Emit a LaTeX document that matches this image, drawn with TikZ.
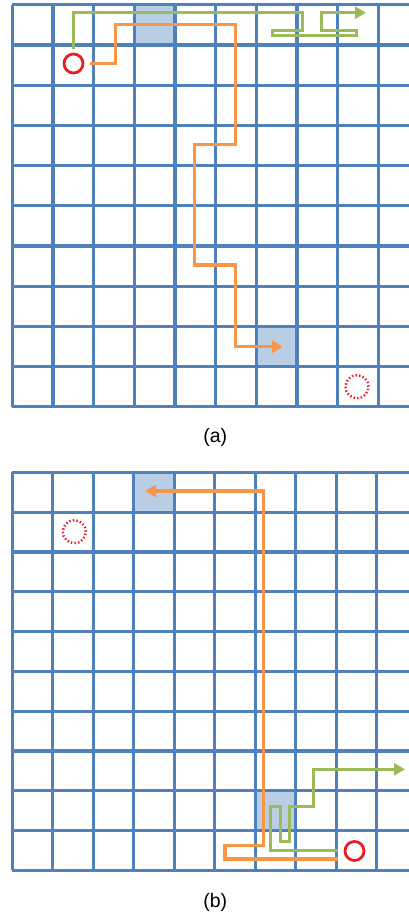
\documentclass[tikz,border=0pt]{standalone}
\usepackage{fontspec}
\setmainfont{Liberation Sans}
\usetikzlibrary{arrows.meta}
\definecolor{gridblue}{RGB}{79,129,189}
\definecolor{cellshade}{RGB}{185,205,229}
\definecolor{pathorange}{RGB}{247,150,70}
\definecolor{pathgreen}{RGB}{155,187,89}
\definecolor{markred}{RGB}{232,30,36}
\tikzset{
  gridline/.style={draw=gridblue, line width=3.2pt},
  shadecell/.style={fill=cellshade},
  orangepath/.style={draw=pathorange, line width=3.2pt},
  greenpath/.style={draw=pathgreen, line width=3pt},
  tipped/.style={-{Triangle[length=11pt,width=12pt]}},
  startmark/.style={circle, draw=markred, line width=2.8pt, minimum size=19pt, inner sep=0pt},
  goalmark/.style={circle, draw=markred, line width=2.5pt, dash pattern=on 1.4pt off 2.2pt, minimum size=23pt, inner sep=0pt},
  caption/.style={font=\fontsize{19.5}{22}\selectfont, inner sep=0pt}
}
\begin{document}
\begin{tikzpicture}[x=1pt,y=-1pt]
\useasboundingbox (0,0) rectangle (409,918);
\clip (0,0) rectangle (409,918);
\fill[white] (0,0) rectangle (409,918);
% ---------- grid (a) ----------
\def\xa{12.3}\def\ya{4.7}\def\dxa{40.67}\def\dya{40.2}
\fill[shadecell] ({\xa+3*\dxa},{\ya}) rectangle ++(\dxa,\dya);
\fill[shadecell] ({\xa+6*\dxa},{\ya+8*\dya}) rectangle ++(\dxa,\dya);
\foreach \i in {0,...,10}{
  \draw[gridline] ({\xa+\i*\dxa},{\ya}) -- ++(0,{10*\dya});
  \draw[gridline] ({\xa},{\ya+\i*\dya}) -- ++({10*\dxa},0);
}
% ---------- grid (b) ----------
\def\xb{12.3}\def\yb{472.3}\def\dxb{40.5}\def\dyb{39.8}
\fill[shadecell] ({\xb+3*\dxb},{\yb}) rectangle ++(\dxb,\dyb);
\fill[shadecell] ({\xb+6*\dxb},{\yb+8*\dyb}) rectangle ++(\dxb,\dyb);
\foreach \i in {0,...,10}{
  \draw[gridline] ({\xb+\i*\dxb},{\yb}) -- ++(0,{10*\dyb});
  \draw[gridline] ({\xb},{\yb+\i*\dyb}) -- ++({10*\dxb},0);
}
% ---------- markers ----------
\node[startmark] (sa) at (73.5,63.5) {};
\node[goalmark] (ga) at (357,386.7) {};
\node[startmark] (sb) at (354.5,851) {};
\node[goalmark] (gb) at (74.3,531.7) {};
% ---------- paths (a) ----------
\coordinate (ga0) at (73.5,48.5);
\coordinate (gaend) at (366,12.7);
\draw[greenpath, tipped] (ga0) -- (73.5,12.7) -- (302.7,12.7) -- (302.7,30.2)
  -- (272.3,30.2) -- (272.3,35.5) -- (356,35.5) -- (356,30.2) -- (321.7,30.2)
  -- (321.7,12.7) -- (gaend);
\coordinate (oa0) at (90,63.3);
\coordinate (oaend) at (283,346.7);
\draw[orangepath, tipped] (oa0) -- (115.7,63.3) -- (115.7,24.3) -- (235.7,24.3)
  -- (235.7,144.3) -- (194.3,144.3) -- (194.3,265) -- (235.7,265)
  -- (235.7,346.7) -- (oaend);
% ---------- paths (b) ----------
\coordinate (ob0) at (338.3,859);
\coordinate (obend) at (145,491);
\draw[orangepath, tipped] (ob0) -- (225,859) -- (225,845.7) -- (263.3,845.7)
  -- (263.3,491) -- (obend);
\coordinate (gb0) at (338.3,850.7);
\coordinate (gbend) at (405,769.3);
\draw[greenpath, tipped] (gb0) -- (270.7,850.7) -- (270.7,806.7) -- (280.7,806.7)
  -- (280.7,841) -- (289.3,841) -- (289.3,806.7) -- (313.3,806.7)
  -- (313.3,769.3) -- (gbend);
% ---------- captions ----------
\node[caption] (capa) at (215.3,437) {(a)};
\node[caption] (capb) at (215.3,902) {(b)};
\end{tikzpicture}
\end{document}
